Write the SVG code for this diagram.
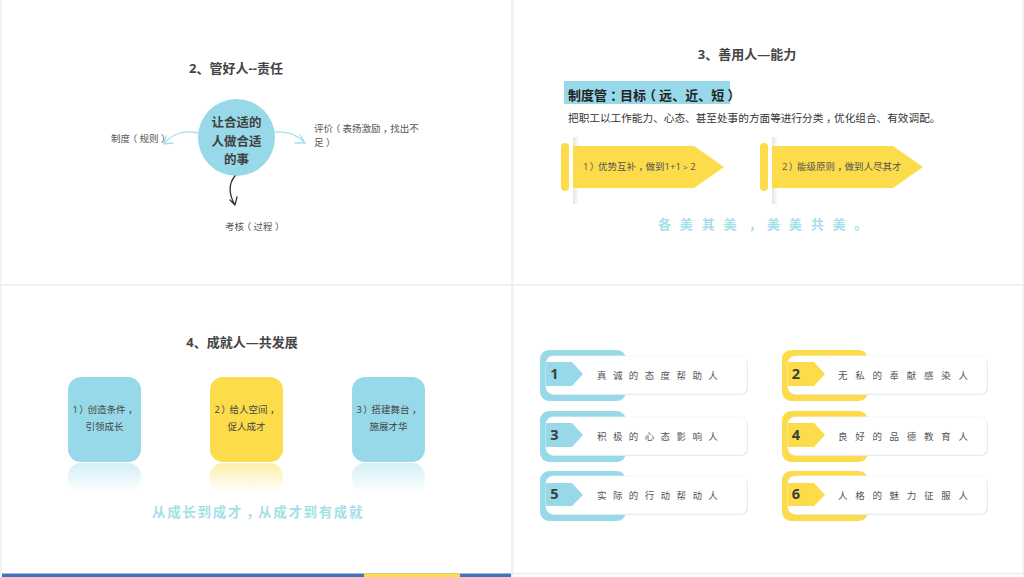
<svg xmlns="http://www.w3.org/2000/svg" width="1024" height="577" viewBox="0 0 1024 577">
<style>
text{font-family:"Open Sans","Noto Sans CJK SC",sans-serif;fill:#404040}
.t{font-size:13px;font-weight:700;text-anchor:middle;fill:#444}
.s{font-size:9.500px;fill:#555}
.m{font-size:9.500px;text-anchor:middle;fill:#444}
.n{font-size:14.500px;font-weight:700;fill:#3d3d3d;text-anchor:middle}
.l{font-size:9.500px;letter-spacing:6.400px;fill:#555}
.r{letter-spacing:7.700px}
.b{fill:#97d9e8}.y{fill:#fcdc4b}
.card{fill:#fff;stroke:#f4f5f5;stroke-width:.8}
.cs{fill:#e4e6e6}
.c{fill:none;stroke-linecap:round;stroke-width:1.300}
</style>
<defs>
<linearGradient id="rb" x1="0" y1="0" x2="0" y2="1"><stop offset="0" stop-color="#97d9e8" stop-opacity=".42"/><stop offset="1" stop-color="#97d9e8" stop-opacity="0"/></linearGradient>
<linearGradient id="ry" x1="0" y1="0" x2="0" y2="1"><stop offset="0" stop-color="#fcdc4b" stop-opacity=".48"/><stop offset="1" stop-color="#fcdc4b" stop-opacity="0"/></linearGradient>
<linearGradient id="sh" x1="0" y1="0" x2="1" y2="0"><stop offset="0" stop-color="#e4e4e4"/><stop offset="1" stop-color="#fff"/></linearGradient>
</defs>
<rect width="1024" height="577" fill="#fff"/>
<g id="frame" fill="#eef1f0">
<rect x="0" y="0" width="1.500" height="577"/><rect x="511" y="0" width="2.500" height="577"/><rect x="1022.500" y="0" width="1.500" height="577"/>
<rect x="0" y="284" width="1024" height="2"/><rect x="513" y="572.500" width="511" height="2"/>
<rect x="2" y="573.500" width="509" height="3.500" fill="#4472b8"/><rect x="364" y="573.500" width="96" height="3.500" fill="#fcdc4b"/>
</g>

<g id="panel2">
<text class="t" x="236" y="72.500">2、管好人--责任</text>
<g id="hub"><circle cx="236.500" cy="137.500" r="38.500" class="b"/>
<g style="font-size:12.500px;font-weight:700;text-anchor:middle"><text x="236.500" y="127">让合适的</text><text x="236.500" y="146">人做合适</text><text x="236.500" y="164">的事</text></g></g>
<g id="connectors2">
<path class="c" stroke="#a5dfea" d="M198 133C186 130 172 133 164 144M164 144L166 136M164 144L173 143"/>
<path class="c" stroke="#a5dfea" d="M275 132C288 131 298 135 305 143M305 143L300 135M305 143L295 143"/>
<path class="c" stroke="#333" d="M235 176C228 184 229 195 235 205M235 205L230 200M235 205L237 197"/>
</g>
<text id="n-zhidu" class="s" x="111" y="142" dx="0 0 -2.400 2.400 0 2.400">制度（规则）</text>
<g id="n-pingjia"><text class="s" x="314" y="132" dx="0 0 -2.400 2.400 0 0 0 2.400 -2.400">评价（表扬激励，找出不</text><text class="s" x="314" y="146" dx="0 2.400">足）</text></g>
<text id="n-kaohe" class="s" x="225" y="230" dx="0 0 -2.400 2.400 0 2.400">考核（过程）</text>
</g>

<g id="panel3">
<text class="t" x="747" y="59">3、善用人—能力</text>
<rect x="564" y="81" width="166" height="23" class="b"/>
<text x="568" y="100" dx="0 0 0 3.200 -3.200 0 -3.200 3.200 0 0 0 0 3.200" style="font-size:13px;font-weight:700;fill:#222">制度管：目标（远、近、短）</text>
<text x="568" y="122" dx="0 0 0 0 0 0 0 0 0 0 0 0 0 0 0 0 0 0 0 0 0 0 0 0 2.600 -2.600" style="font-size:10.650px;fill:#333">把职工以工作能力、心态、甚至处事的方面等进行分类，优化组合、有效调配。</text>
<g id="arrow1"><rect x="573" y="137" width="6" height="67" fill="url(#sh)"/><rect x="561" y="143" width="8" height="48" rx="4" class="y"/><path d="M573 146H694L724 167L694 188H573Z" class="y"/><text class="s" x="583" y="170" dx="0 1.200 -1.200 0 0 0 2.400 -2.400">1）优势互补，做到1+1﹥2</text></g>
<g id="arrow2"><rect x="772" y="137" width="6" height="67" fill="url(#sh)"/><rect x="760" y="143" width="8" height="48" rx="4" class="y"/><path d="M772 146H893L923 167L893 188H772Z" class="y"/><text class="s" x="782" y="170" dx="0 1.200 -1.200 0 0 0 2.400 -2.400">2）能级原则，做到人尽其才</text></g>
<text x="658" y="229" dx="0 0 0 0 3.200 -3.200" style="font-size:13px;font-weight:700;letter-spacing:8.800px;fill:#a5dfea">各美其美，美美共美。</text>
</g>

<g id="panel4">
<text class="t" x="242" y="347">4、成就人—共发展</text>
<g id="card1"><rect x="68" y="377" width="73" height="85" rx="13" class="b"/><rect x="68" y="463" width="73" height="30" rx="13" fill="url(#rb)"/><text class="m" x="105" y="413" dx="0 1.200 -1.200 0 0 0 2.400">1）创造条件，</text><text class="m" x="104.500" y="430">引领成长</text></g>
<g id="card2"><rect x="210" y="377" width="73" height="85" rx="13" class="y"/><rect x="210" y="463" width="73" height="30" rx="13" fill="url(#ry)"/><text class="m" x="247" y="413" dx="0 1.200 -1.200 0 0 0 2.400">2）给人空间，</text><text class="m" x="246.500" y="430">促人成才</text></g>
<g id="card3"><rect x="352" y="377" width="73" height="85" rx="13" class="b"/><rect x="352" y="463" width="73" height="30" rx="13" fill="url(#rb)"/><text class="m" x="389" y="413" dx="0 1.200 -1.200 0 0 0 2.400">3）搭建舞台，</text><text class="m" x="388.500" y="430">施展才华</text></g>
<text x="152" y="517" dx="0 0 0 0 0 0 3.400 -3.400" style="font-size:13.500px;font-weight:700;letter-spacing:1.650px;fill:#a5dfea">从成长到成才，从成才到有成就</text>
</g>

<g id="panel5">
<g id="item1"><rect x="540" y="350" width="86" height="51" rx="9" class="b"/><rect x="547.500" y="357" width="200.500" height="38" rx="7" class="cs"/><rect x="546" y="356" width="201" height="38" rx="7" class="card"/><path d="M546 362H572L583 374L572 386H546Z" class="b"/><text class="n" x="554.500" y="379">1</text><text class="l" x="597" y="379">真诚的态度帮助人</text></g>
<g id="item3"><rect x="540" y="411" width="86" height="51" rx="9" class="b"/><rect x="547.500" y="418" width="200.500" height="38" rx="7" class="cs"/><rect x="546" y="417" width="201" height="38" rx="7" class="card"/><path d="M546 423H572L583 435L572 447H546Z" class="b"/><text class="n" x="554.500" y="440">3</text><text class="l" x="597" y="440">积极的心态影响人</text></g>
<g id="item5"><rect x="540" y="471" width="86" height="50" rx="9" class="b"/><rect x="547.500" y="477" width="200.500" height="38" rx="7" class="cs"/><rect x="546" y="476" width="201" height="38" rx="7" class="card"/><path d="M546 483H572L583 495L572 506H546Z" class="b"/><text class="n" x="554.500" y="499">5</text><text class="l" x="597" y="499">实际的行动帮动人</text></g>
<g id="item2"><rect x="782" y="350" width="86" height="51" rx="9" class="y"/><rect x="789.500" y="357" width="198.500" height="38" rx="7" class="cs"/><rect x="788" y="356" width="199" height="38" rx="7" class="card"/><path d="M788 362H814L825 374L814 386H788Z" class="y"/><text class="n" x="796" y="379">2</text><text class="l r" x="838" y="379">无私的奉献感染人</text></g>
<g id="item4"><rect x="782" y="411" width="86" height="51" rx="9" class="y"/><rect x="789.500" y="418" width="198.500" height="38" rx="7" class="cs"/><rect x="788" y="417" width="199" height="38" rx="7" class="card"/><path d="M788 423H814L825 435L814 447H788Z" class="y"/><text class="n" x="796" y="440">4</text><text class="l r" x="838" y="440">良好的品德教育人</text></g>
<g id="item6"><rect x="782" y="471" width="86" height="50" rx="9" class="y"/><rect x="789.500" y="477" width="198.500" height="38" rx="7" class="cs"/><rect x="788" y="476" width="199" height="38" rx="7" class="card"/><path d="M788 483H814L825 495L814 506H788Z" class="y"/><text class="n" x="796" y="499">6</text><text class="l r" x="838" y="499">人格的魅力征服人</text></g>
</g>
</svg>
